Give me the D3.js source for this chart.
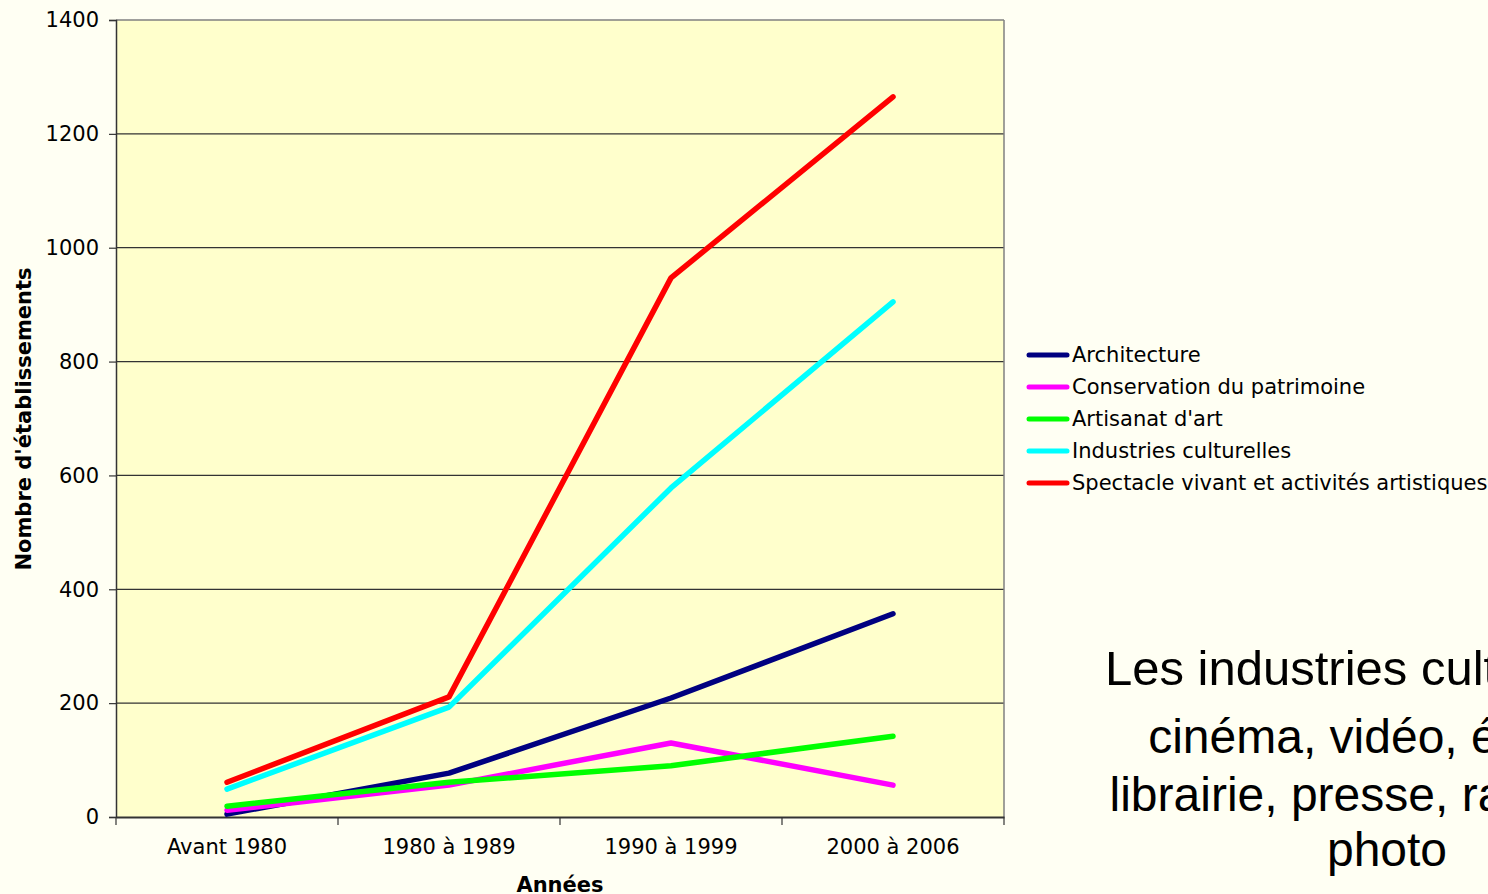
<!DOCTYPE html>
<html>
<head>
<meta charset="utf-8">
<script src="https://cdn.jsdelivr.net/npm/d3@7"></script>
<style>
  html, body { margin: 0; padding: 0; background: #FFFFF3; overflow: hidden; }
  svg { display: block; }
</style>
</head>
<body>
<svg id="chart" width="1488" height="894"></svg>
<script>
const categories = ["Avant 1980", "1980 à 1989", "1990 à 1999", "2000 à 2006"];
const seriesNames = ["Architecture", "Conservation du patrimoine", "Artisanat d'art", "Industries culturelles", "Spectacle vivant et activités artistiques"];
const architecture = [5, 77, 209, 357];
const conservation = [12, 56, 130, 56];
const artisanat = [19, 61, 90, 142];
const industries = [49, 193, 578, 905];
const spectacle = [61, 211, 947, 1265];
const seriesColors = ["#000080", "#FF00FF", "#00FF00", "#00FFFF", "#FF0000"];
const yTicks = [0, 200, 400, 600, 800, 1000, 1200, 1400];
const noteLines = ["Les industries culturelles :", "cinéma, vidéo, édition,", "librairie, presse, radio, TV,", "photo"];

const seriesValues = [architecture, conservation, artisanat, industries, spectacle];

const svg = d3.select("#chart");
const pLeft = 116, pRight = 1004, pTop = 20, pBottom = 817;
const font = "DejaVu Sans, Verdana, sans-serif";

const x = d3.scaleBand().domain(categories).range([pLeft, pRight]);
const y = d3.scaleLinear().domain([0, 1400]).range([pBottom, pTop]);

// plot background
svg.append("rect").attr("x", pLeft).attr("y", pTop).attr("width", pRight - pLeft).attr("height", pBottom - pTop)
  .attr("fill", "#FFFFCC");

// gridlines
svg.append("g").selectAll("line").data(yTicks.filter(d => d > 0 && d < 1400)).join("line")
  .attr("x1", pLeft).attr("x2", pRight).attr("y1", d => y(d)).attr("y2", d => y(d))
  .attr("stroke", "#333").attr("stroke-width", 1.2);

// top & right border
svg.append("line").attr("x1", pLeft).attr("x2", pRight).attr("y1", pTop).attr("y2", pTop).attr("stroke", "#808080").attr("stroke-width", 1.5);
svg.append("line").attr("x1", pRight).attr("x2", pRight).attr("y1", pTop).attr("y2", pBottom).attr("stroke", "#808080").attr("stroke-width", 1.5);

// y axis
const yAxis = d3.axisLeft(y).tickValues(yTicks).tickSize(7).tickPadding(10).tickFormat(d3.format("d"));
const gy = svg.append("g").attr("transform", `translate(${pLeft},0)`).call(yAxis);
gy.select(".domain").attr("stroke", "#333").attr("stroke-width", 1.5);
gy.selectAll(".tick line").attr("stroke", "#333").attr("stroke-width", 1.2);
gy.selectAll(".tick text").attr("font-family", font).attr("font-size", 21).attr("fill", "#000");

// x axis
const xAxis = d3.axisBottom(x).tickSize(0).tickPadding(22);
const gx = svg.append("g").attr("transform", `translate(0,${pBottom})`).call(xAxis);
gx.select(".domain").attr("stroke", "#333").attr("stroke-width", 2);
gx.selectAll(".tick text").attr("font-family", font).attr("font-size", 21).attr("fill", "#000");
// category separator ticks
const sepPositions = categories.map(c => x(c)).concat([x(categories[categories.length - 1]) + x.bandwidth()]);
svg.append("g").selectAll("line").data(sepPositions).join("line")
  .attr("x1", d => d).attr("x2", d => d).attr("y1", pBottom).attr("y2", pBottom + 8)
  .attr("stroke", "#333").attr("stroke-width", 1.2);

// axis titles
svg.append("text").attr("x", 560).attr("y", 892).attr("text-anchor", "middle")
  .attr("font-family", font).attr("font-weight", "bold").attr("font-size", 21)
  .text("Années");
svg.append("text").attr("transform", "translate(31,419) rotate(-90)").attr("text-anchor", "middle")
  .attr("font-family", font).attr("font-weight", "bold").attr("font-size", 21)
  .text("Nombre d'établissements");

// lines
const line = d3.line().x((d, i) => x(categories[i]) + x.bandwidth() / 2).y(d => y(d));
svg.append("g").selectAll("path").data(seriesValues).join("path")
  .attr("d", d => line(d)).attr("fill", "none")
  .attr("stroke", (d, i) => seriesColors[i]).attr("stroke-width", 5.5)
  .attr("stroke-linecap", "round").attr("stroke-linejoin", "round");

// legend
const lg = svg.append("g");
seriesNames.forEach((name, i) => {
  const ly = 355 + i * 32;
  lg.append("line").attr("x1", 1029).attr("x2", 1067).attr("y1", ly).attr("y2", ly)
    .attr("stroke", seriesColors[i]).attr("stroke-width", 5).attr("stroke-linecap", "round");
  lg.append("text").attr("x", 1072).attr("y", ly + 7)
    .attr("font-family", font).attr("font-size", 21).attr("fill", "#000")
    .text(name);
});

// note text
const noteBaselines = [685, 753, 811, 866];
noteLines.forEach((t, i) => {
  svg.append("text")
    .attr("x", i === 0 ? 1105 : 1387).attr("y", noteBaselines[i])
    .attr("text-anchor", i === 0 ? "start" : "middle")
    .attr("font-family", "Liberation Sans, Arial, sans-serif").attr("font-size", i === 0 ? 49 : 48).attr("fill", "#000")
    .text(t);
});
</script>
</body>
</html>
